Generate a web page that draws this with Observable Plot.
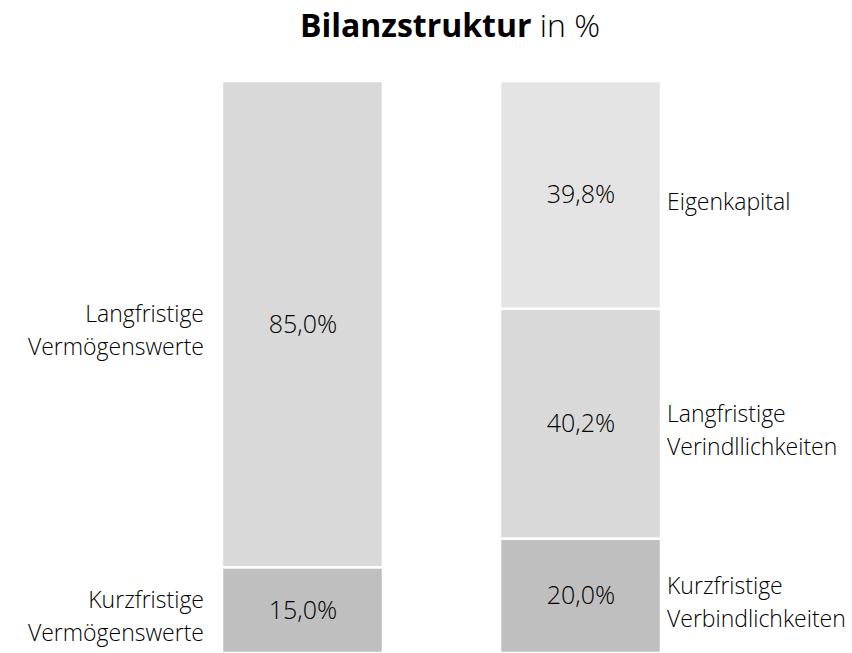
<!DOCTYPE html>
<html>
<head>
<meta charset="utf-8">
<script src="https://cdn.jsdelivr.net/npm/d3@7"></script>
<script src="https://cdn.jsdelivr.net/npm/@observablehq/plot@0.6"></script>
<style>
  html, body { margin: 0; padding: 0; background: #fff; }
  #title {
    font-family: "Open Sans", sans-serif;
    font-size: 32px;
    line-height: 40px;
    height: 40px;
    padding-top: 5px;
    padding-left: 48px;
    text-align: center;
    color: #000;
    width: 804px;
  }
  #title b { font-weight: 700; }
  #title span { font-weight: 300; }
  #chart svg text { font-weight: 300; }
</style>
</head>
<body>
<div id="title"><b>Bilanzstruktur</b> <span>in %</span></div>
<div id="chart"></div>
<script>
// ---- Data ----
const sides = ["Aktiva", "Aktiva", "Passiva", "Passiva", "Passiva"];
const labels = [
  "Kurzfristige\nVermögenswerte",
  "Langfristige\nVermögenswerte",
  "Kurzfristige\nVerbindlichkeiten",
  "Langfristige\nVerindllichkeiten",
  "Eigenkapital"
];
const tiers = ["kurz", "lang", "kurz", "lang", "eigen"];
const values = [15.0, 85.0, 20.0, 40.2, 39.8];

const rows = values.map((v, i) => ({side: sides[i], label: labels[i], tier: tiers[i], value: v}));
const fmt = v => v.toFixed(1).replace(".", ",") + "%";

const font = "'Open Sans', sans-serif";

const chart = Plot.plot({
  width: 852,
  height: 608,
  marginTop: 36,
  marginBottom: 0,
  marginLeft: 0,
  marginRight: 0,
  style: {fontFamily: font, background: "#fff", color: "#000"},
  x: {domain: ["Aktiva", "Passiva"], range: [220.75, 661.25], paddingInner: 0.421, paddingOuter: 0, axis: null},
  y: {domain: [0, 100], axis: null},
  color: {domain: ["kurz", "lang", "eigen"], range: ["#bfbfbf", "#d9d9d9", "#e4e4e4"]},
  marks: [
    Plot.barY(rows, {x: "side", y: "value", fill: "tier", stroke: "#fff", strokeWidth: 2.5}),
    Plot.text(rows, Plot.stackY({x: "side", y: "value", text: d => fmt(d.value), fontSize: 25, fill: "#000"})),
    Plot.text(rows.filter(d => d.side === "Aktiva"), Plot.stackY({
      x: "side", y: "value", text: "label", textAnchor: "end", dx: -99, dy: 3,
      fontSize: 23, lineHeight: 1.43, fill: "#000"
    })),
    Plot.text(rows.filter(d => d.side === "Passiva"), Plot.stackY({
      x: "side", y: "value", text: "label", textAnchor: "start", dx: 86, dy: 4,
      fontSize: 23, lineHeight: 1.43, fill: "#000"
    }))
  ]
});
document.getElementById("chart").appendChild(chart);
</script>
</body>
</html>
